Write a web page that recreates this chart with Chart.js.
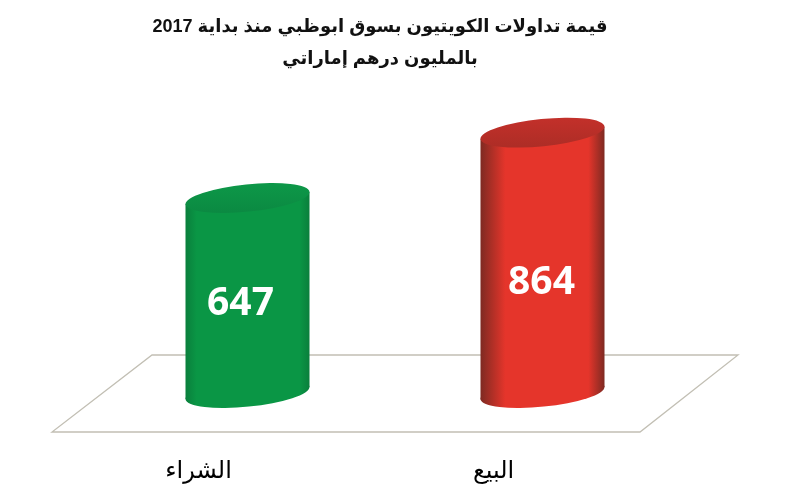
<!DOCTYPE html>
<html lang="ar">
<head>
<meta charset="utf-8">
<title>قيمة تداولات الكويتيون</title>
<script src="https://cdn.jsdelivr.net/npm/chart.js@4/dist/chart.umd.min.js"></script>
<style>
  html, body { margin: 0; padding: 0; background: #fff; }
  canvas { display: block; }
</style>
</head>
<body>
<canvas id="tradesChart" width="791" height="486"></canvas>
<script>
// ============================================================================
// DATA
// ============================================================================
const titleLines = ['قيمة تداولات الكويتيون بسوق ابوظبي منذ بداية 2017', 'بالمليون درهم إماراتي'];
const categories = ['الشراء', 'البيع'];
const values = [647, 864];
const barColors = ['#0A9645', '#E5352B'];
const edgeColors = ['#0A7F3C', '#7E2A22'];
const capTopColors = ['#0D9748', '#C2302A'];
const capBottomColors = ['#0B8A42', '#AE2D26'];

// ============================================================================
// CYLINDER DRAWING
// ============================================================================
const CAP_TILT = 5.8 * Math.PI / 180;
const CAP_MINOR_RATIO = 0.22;
const EDGE_STOPS = [{ left: 0.09, right: 0.92 }, { left: 0.2, right: 0.87 }];
const LABEL_SHIFT = [{ x: -7, y: 8 }, { x: -1, y: 20 }];

// one tilted ellipse, anti-clockwise rotation so the right side sits higher
function addCap(ctx, x, y, a, b) {
  ctx.moveTo(x + a * Math.cos(CAP_TILT), y - a * Math.sin(CAP_TILT));
  ctx.ellipse(x, y, a, b, -CAP_TILT, 0, Math.PI * 2);
}

const cylinderBars = {
  id: 'cylinderBars',
  beforeDatasetDraw(chart, args) {
    const ctx = chart.ctx;
    const bars = chart.getDatasetMeta(args.index).data;

    bars.forEach((bar, i) => {
      const half = bar.width / 2;
      const s = Math.sin(CAP_TILT), c = Math.cos(CAP_TILT);
      const minor = bar.width * CAP_MINOR_RATIO / 2;
      const major = Math.sqrt((half * half - minor * minor * s * s) / (c * c));
      // vertical offset of the ellipse's left/right extremes from its centre
      const rise = (major * major - minor * minor) * s * c / half;
      const left = bar.x - half, right = bar.x + half;

      const side = ctx.createLinearGradient(left, 0, right, 0);
      side.addColorStop(0, edgeColors[i]);
      side.addColorStop(EDGE_STOPS[i].left, barColors[i]);
      side.addColorStop(EDGE_STOPS[i].right, barColors[i]);
      side.addColorStop(1, edgeColors[i]);

      ctx.save();
      ctx.fillStyle = side;
      ctx.beginPath();
      ctx.moveTo(left, bar.y + rise);
      ctx.lineTo(right, bar.y - rise);
      ctx.lineTo(right, bar.base - rise);
      ctx.lineTo(left, bar.base + rise);
      ctx.closePath();
      ctx.fill();
      ctx.beginPath();
      addCap(ctx, bar.x, bar.base, major, minor);
      ctx.fill();

      const cap = ctx.createLinearGradient(0, bar.y - minor, 0, bar.y + minor);
      cap.addColorStop(0, capTopColors[i]);
      cap.addColorStop(1, capBottomColors[i]);
      ctx.fillStyle = cap;
      ctx.beginPath();
      addCap(ctx, bar.x, bar.y, major, minor);
      ctx.fill();

      ctx.fillStyle = '#fff';
      ctx.font = 'bold 39px "Open Sans"';
      ctx.textAlign = 'center';
      ctx.textBaseline = 'middle';
      ctx.fillText(String(values[i]), bar.x + LABEL_SHIFT[i].x, (bar.y + bar.base) / 2 + LABEL_SHIFT[i].y);
      ctx.restore();
    });
    return false;
  }
};

// Floor outline under the cylinders, hung off the zero line of the value axis
const floorPlane = {
  id: 'floorPlane',
  beforeDatasetsDraw(chart) {
    const ctx = chart.ctx;
    const zero = chart.scales.y.getPixelForValue(0);
    const { left, right } = chart.chartArea;
    ctx.save();
    ctx.strokeStyle = '#C2BFB4';
    ctx.lineWidth = 1.3;
    ctx.beginPath();
    ctx.moveTo(left + 52, zero - 38);
    ctx.lineTo(right + 48, zero - 38);
    ctx.lineTo(right - 50, zero + 39);
    ctx.lineTo(left - 48, zero + 39);
    ctx.closePath();
    ctx.stroke();
    ctx.restore();
  }
};

// Title block sits a little left of the plot centre
const titleShift = {
  id: 'titleShift',
  afterLayout(chart) {
    chart.titleBlock.left -= 15;
    chart.titleBlock.right -= 15;
  }
};

// ============================================================================
// CHART
// ============================================================================
new Chart(document.getElementById('tradesChart'), {
  type: 'bar',
  data: {
    labels: categories,
    datasets: [{
      data: values,
      backgroundColor: barColors,
      categoryPercentage: 1,
      barPercentage: 124 / 295
    }]
  },
  plugins: [floorPlane, cylinderBars, titleShift],
  options: {
    responsive: false,
    animation: false,
    layout: { padding: { left: 100, right: 101, top: 0, bottom: 0 } },
    plugins: {
      legend: { display: false },
      tooltip: { enabled: false },
      title: {
        display: true,
        text: titleLines,
        color: '#111',
        font: { family: '"Liberation Sans", "DejaVu Sans", sans-serif', size: 18, weight: 'bold', lineHeight: 1.78 },
        padding: { top: 11, bottom: 16.6 }
      }
    },
    scales: {
      y: { display: false, min: 0, max: 1000 },
      x: {
        grid: { display: false },
        border: { display: false },
        afterFit(axis) { axis.height = 93; },
        ticks: {
          color: '#000',
          padding: 56,
          labelOffset: -49,
          maxRotation: 0,
          font: { family: '"Liberation Sans", "DejaVu Sans", sans-serif', size: 24 }
        }
      }
    }
  }
});
</script>
</body>
</html>
